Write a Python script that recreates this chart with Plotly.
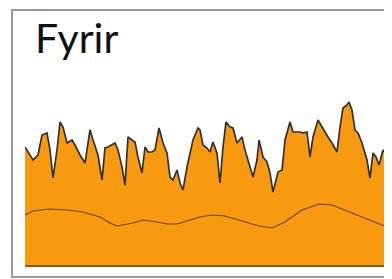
import plotly.graph_objects as go

# Noisy series: position along the axis and height above the baseline
top_x = [0, 8, 13, 17, 22, 25, 28, 32, 35, 38, 42, 47, 50, 55, 60, 65, 68, 73, 77, 80, 83, 87,
         90, 93, 97, 100, 103, 107, 110, 113, 117, 120, 123, 127, 130, 134, 138, 142, 145, 148,
         152, 155, 158, 162, 165, 168, 173, 175, 178, 182, 185, 188, 192, 195, 198, 201, 205,
         208, 212, 217, 220, 223, 228, 232, 234, 238, 242, 245, 248, 253, 257, 260, 265, 268,
         272, 275, 278, 282, 285, 288, 293, 297, 300, 303, 307, 312, 315, 318, 322, 324, 327,
         330, 333, 337, 342, 345, 348, 351, 354, 358, 362, 365, 367]
top_y = [119, 106, 111, 131, 133, 116, 88, 116, 144, 139, 123, 126, 121, 111, 103, 136, 126,
         111, 86, 118, 119, 121, 123, 116, 99, 81, 129, 126, 124, 109, 93, 119, 114, 114, 116,
         138, 123, 113, 89, 86, 96, 83, 76, 99, 114, 126, 138, 136, 121, 118, 114, 124, 113, 83,
         119, 144, 139, 138, 123, 129, 116, 106, 89, 106, 126, 109, 104, 93, 74, 94, 96, 126, 144,
         134, 134, 134, 133, 134, 109, 129, 146, 139, 133, 129, 123, 114, 139, 158, 161, 164, 156,
         136, 133, 123, 106, 88, 113, 109, 101, 116, 111, 119, 117]

# Smooth series
smooth_x = [0, 8, 25, 42, 58, 75, 85, 92, 108, 118, 132, 142, 152, 165, 175, 187, 200, 217,
            234, 247, 260, 277, 294, 307, 324, 340, 357, 367]
smooth_y = [51, 55, 57, 56, 54, 49, 43, 40, 43, 46, 44, 42, 42, 46, 49, 51, 50, 45, 40, 38,
            44, 56, 62, 61, 54, 48, 41, 39]

W, H = 392, 279
OFF = 8  # page body margin


def px(x):
    return (x - OFF) / W


def py(y):
    return (H - (y - OFF)) / H


fig = go.Figure()
fig.add_trace(go.Scatter(
    x=top_x, y=top_y, mode="lines", fill="tozeroy",
    fillcolor="#F89A10", line=dict(color="#333030", width=1.7),
    hoverinfo="skip", showlegend=False,
))
fig.add_trace(go.Scatter(
    x=smooth_x, y=smooth_y, mode="lines",
    line=dict(color="#6e4200", width=1.2),
    hoverinfo="skip", showlegend=False,
))

fig.update_layout(
    width=W, height=H,
    margin=dict(l=0, r=0, t=0, b=0),
    paper_bgcolor="white", plot_bgcolor="rgba(0,0,0,0)",
    xaxis=dict(domain=[px(25), px(392)], range=[0, 367], visible=False, fixedrange=True),
    yaxis=dict(domain=[0, 1], range=[-(H - (266 - OFF)), 266 - OFF], visible=False, fixedrange=True),
    shapes=[
        dict(type="rect", xref="paper", yref="paper",
             x0=px(12), x1=px(420), y0=py(277), y1=py(10),
             line=dict(color="#9a9a9a", width=2), fillcolor="rgba(0,0,0,0)", layer="below"),
        dict(type="line", xref="x", yref="y", x0=0, x1=367, y0=0, y1=0,
             line=dict(color="#8a5a10", width=2)),
    ],
    annotations=[
        dict(text="Fyrir", xref="paper", yref="paper", x=px(33), y=py(11),
             xanchor="left", yanchor="top", showarrow=False,
             font=dict(family="Lato", size=41, color="#111"))
    ],
)

fig.write_html("out.html")
